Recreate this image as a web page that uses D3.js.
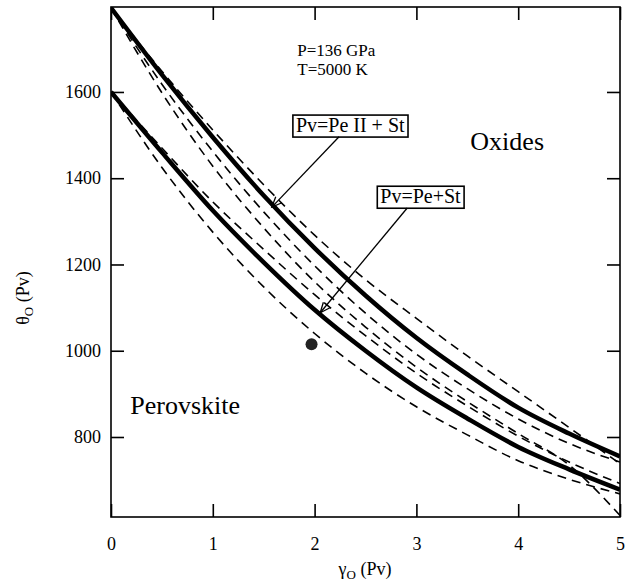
<!DOCTYPE html>
<html><head><meta charset="utf-8">
<script src="https://cdn.jsdelivr.net/npm/d3@7"></script>
<style>body{margin:0;background:#fff}svg{display:block}svg text{font-family:"Liberation Serif","Times New Roman",Times,serif !important}</style>
</head><body><svg id="c" width="629" height="582"></svg>
<script>
const gammaVals = [0, 0.5, 1, 1.5, 2, 2.5, 3, 3.5, 4, 4.5, 5];
const solidPeII = [1795, 1640, 1495, 1360, 1238, 1128, 1030, 945, 868, 808, 755];
const solidPe   = [1600, 1460, 1325, 1205, 1095, 1000, 915, 843, 777, 725, 678];
const dashA = [1795, 1648, 1512, 1385, 1268, 1165, 1075, 988, 905, 822, 738];
const dashB = [1795, 1618, 1462, 1322, 1197, 1087, 992, 912, 842, 785, 742];
const dashE = [1795, 1598, 1428, 1285, 1160, 1055, 962, 882, 808, 735, 618];
const dashC = [1600, 1470, 1345, 1235, 1130, 1035, 948, 872, 802, 742, 692];
const dashD = [1600, 1425, 1275, 1148, 1040, 948, 870, 805, 745, 702, 668];
const dotPoint = [[1.97, 1015]];
const xTicks = [0, 1, 2, 3, 4, 5];
const yTicks = [800, 1000, 1200, 1400, 1600];

const FONT = '"Liberation Serif", "Times New Roman", Times, serif';
const svg = d3.select("#c").style("font-family", FONT);
const x = d3.scaleLinear().domain([0, 5]).range([111, 620]);
const y = d3.scaleLinear().domain([614.5, 1797]).range([517, 7]);
const line = d3.line().x(d => x(d[0])).y(d => y(d[1])).curve(d3.curveMonotoneX);
const pts = arr => gammaVals.map((g, i) => [g, arr[i]]);

svg.append("clipPath").attr("id", "clp").append("rect")
  .attr("x", 111).attr("y", 7).attr("width", 509).attr("height", 510);
const plot = svg.append("g").attr("clip-path", "url(#clp)");

[dashA, dashB, dashE, dashC, dashD].forEach(s => {
  plot.append("path").attr("d", line(pts(s))).attr("fill", "none")
    .attr("stroke", "#000").attr("stroke-width", 1.6).attr("stroke-dasharray", "9,6");
});
[solidPeII, solidPe].forEach(s => {
  plot.append("path").attr("d", line(pts(s))).attr("fill", "none")
    .attr("stroke", "#000").attr("stroke-width", 4.5);
});
plot.selectAll("circle.dot").data(dotPoint).enter().append("circle")
  .attr("cx", d => x(d[0])).attr("cy", d => y(d[1])).attr("r", 6).attr("fill", "#222");

svg.append("rect").attr("x", 111).attr("y", 7).attr("width", 509).attr("height", 510)
  .attr("fill", "none").attr("stroke", "#000").attr("stroke-width", 1.6);

const ax = (g) => {
  g.attr("font-family", null).attr("font-size", null).style("font-size", "18px");
  g.select(".domain").remove();
  g.selectAll("line").attr("stroke", "#000").attr("stroke-width", 1.6);
  g.selectAll("text").attr("fill", "#000").style("font-family", FONT);
};
svg.append("g").attr("transform", "translate(0,517)")
  .call(d3.axisBottom(x).tickValues(xTicks).tickSize(-13).tickPadding(20).tickFormat(d3.format("d"))).call(ax);
svg.append("g").attr("transform", "translate(111,0)")
  .call(d3.axisLeft(y).tickValues(yTicks).tickSize(-13).tickPadding(10).tickFormat(d3.format("d"))).call(ax);
svg.append("g").attr("transform", "translate(0,7)")
  .call(d3.axisTop(x).tickValues(xTicks).tickSize(-13).tickFormat("")).call(ax);
svg.append("g").attr("transform", "translate(620,0)")
  .call(d3.axisRight(y).tickValues(yTicks).tickSize(-13).tickFormat("")).call(ax);

const txt = (px, py, size) => svg.append("text").attr("x", px).attr("y", py)
  .style("font-family", FONT).style("font-size", size + "px").attr("fill", "#000");

const xt = txt(365, 575, 18).attr("text-anchor", "middle");
xt.append("tspan").text("γ");
xt.append("tspan").attr("dy", 4).style("font-size", "13px").text("O");
xt.append("tspan").attr("dy", -4).text(" (Pv)");
const yt = svg.append("text").attr("transform", "translate(29,298) rotate(-90)")
  .attr("text-anchor", "middle").style("font-family", FONT).style("font-size", "18px");
yt.append("tspan").text("θ");
yt.append("tspan").attr("dy", 4).style("font-size", "13px").text("O");
yt.append("tspan").attr("dy", -4).text(" (Pv)");

txt(x(1.83), y(1684), 17).text("P=136 GPa");
txt(x(1.83), y(1640), 17).text("T=5000 K");
txt(x(3.53), y(1465), 26).text("Oxides");
txt(x(0.19), y(853), 26).text("Perovskite");

function box(label, cx, base) {
  const g = svg.append("g");
  const r = g.append("rect");
  const t = g.append("text").attr("x", x(cx)).attr("y", y(base)).attr("text-anchor", "middle")
    .style("font-family", FONT).style("font-size", "20px").attr("fill", "#000").text(label);
  const bb = t.node().getBBox();
  r.attr("x", bb.x - 3).attr("y", bb.y + 1).attr("width", bb.width + 6).attr("height", bb.height)
    .attr("fill", "#fff").attr("stroke", "#000").attr("stroke-width", 1.6);
}
box("Pv=Pe II + St", 2.35, 1507);
box("Pv=Pe+St", 3.04, 1342);

function arrow(x0, y0, x1, y1) {
  const X0 = x(x0), Y0 = y(y0), X1 = x(x1), Y1 = y(y1);
  svg.append("line").attr("x1", X0).attr("y1", Y0).attr("x2", X1).attr("y2", Y1)
    .attr("stroke", "#000").attr("stroke-width", 1.3);
  const a = Math.atan2(Y1 - Y0, X1 - X0), L = 11, w = 0.4;
  const p = [[X1 - L * Math.cos(a - w), Y1 - L * Math.sin(a - w)], [X1, Y1], [X1 - L * Math.cos(a + w), Y1 - L * Math.sin(a + w)]];
  svg.append("path").attr("d", d3.line()(p)).attr("fill", "none").attr("stroke", "#000").attr("stroke-width", 1.3);
}
arrow(2.24, 1496, 1.58, 1333);
arrow(2.91, 1331, 2.055, 1088);
</script></body></html>
